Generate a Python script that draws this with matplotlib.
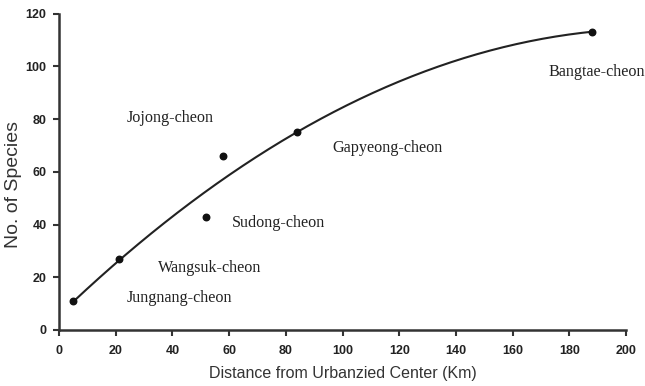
import numpy as np
import matplotlib
matplotlib.use('Agg')
from matplotlib import pyplot as plt

# distance from urbanized center (km) and number of species
dist = [5, 21, 52, 58, 84, 188]
species = [11, 27, 43, 66, 75, 113]
streams = ['Jungnang-cheon', 'Wangsuk-cheon', 'Sudong-cheon', 'Jojong-cheon',
           'Gapyeong-cheon', 'Bangtae-cheon']
label_pos = [(24, 12), (35, 23.5), (61, 40.5), (24, 80.5), (96.5, 69), (172.5, 98)]

fig = plt.figure(figsize=(6.45, 3.86), dpi=100)
ax = fig.add_axes([59/645, 56/386, 567/645, 316.5/386])

# quadratic trend line
c = np.polyfit(dist, species, 2)
xs = np.linspace(min(dist), max(dist), 200)
ax.plot(xs, np.polyval(c, xs), color='#222222', lw=1.5)
ax.scatter(dist, species, s=22, color='#111111', zorder=3)

for name, (tx, ty) in zip(streams, label_pos):
    ax.text(tx, ty, name, family='Liberation Serif', fontsize=11.6,
            color='#222222', va='center', ha='left')

ax.set_xlim(0, 200)
ax.set_ylim(0, 120)
ax.set_xticks(range(0, 201, 20))
ax.set_yticks(range(0, 121, 20))
for s in ['top', 'right']:
    ax.spines[s].set_visible(False)
for s in ['left', 'bottom']:
    ax.spines[s].set_linewidth(1.8)
    ax.spines[s].set_color('#333333')
ax.tick_params(direction='out', length=4, width=1.5, color='#333333',
               labelsize=9)
ax.tick_params(axis='x', pad=7)
ax.tick_params(axis='y', pad=5)
for lab in ax.get_xticklabels() + ax.get_yticklabels():
    lab.set_fontweight('bold')
    lab.set_family('Liberation Sans')
    lab.set_color('#222222')
ax.set_xlabel('Distance from Urbanzied Center (Km)', family='Liberation Sans',
              fontsize=11.5, color='#333333', labelpad=6)
ax.set_ylabel('No. of Species', family='Liberation Sans', fontsize=14,
              color='#333333')
ax.yaxis.set_label_coords(-0.066, 0.46)

fig.savefig('out.png', dpi=100)
